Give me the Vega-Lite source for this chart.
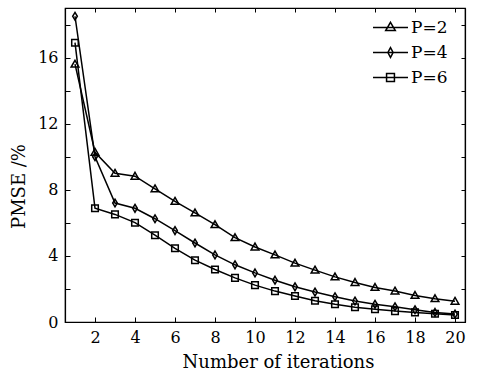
{
  "$schema": "https://vega.github.io/schema/vega-lite/v6.json",
  "width": 400,
  "height": 314,
  "autosize": "none",
  "padding": {"left": 65, "top": 8, "right": 16, "bottom": 56},
  "background": "white",
  "config": {
    "font": "DejaVu Serif",
    "view": {"stroke": "black", "strokeWidth": 1.2},
    "legend": {"labelFont": "DejaVu Serif", "labelFontSize": 17, "labelColor": "black"},
    "axis": {
      "domainColor": "black", "tickColor": "black", "labelColor": "black", "titleColor": "black",
      "labelFont": "DejaVu Serif", "titleFont": "DejaVu Serif", "labelFontSize": 16, "titleFontSize": 18,
      "titleFontWeight": "normal", "grid": false, "domainWidth": 1.2, "tickWidth": 1
    }
  },
  "data": {"values": [
    {"x": 1, "y": 15.6, "s": "P=2"}, {"x": 2, "y": 10.27, "s": "P=2"}, {"x": 3, "y": 9.0, "s": "P=2"}, {"x": 4, "y": 8.82, "s": "P=2"}, {"x": 5, "y": 8.06, "s": "P=2"},
    {"x": 6, "y": 7.3, "s": "P=2"}, {"x": 7, "y": 6.6, "s": "P=2"}, {"x": 8, "y": 5.89, "s": "P=2"}, {"x": 9, "y": 5.1, "s": "P=2"}, {"x": 10, "y": 4.54, "s": "P=2"},
    {"x": 11, "y": 4.06, "s": "P=2"}, {"x": 12, "y": 3.56, "s": "P=2"}, {"x": 13, "y": 3.14, "s": "P=2"}, {"x": 14, "y": 2.73, "s": "P=2"}, {"x": 15, "y": 2.39, "s": "P=2"},
    {"x": 16, "y": 2.09, "s": "P=2"}, {"x": 17, "y": 1.87, "s": "P=2"}, {"x": 18, "y": 1.61, "s": "P=2"}, {"x": 19, "y": 1.41, "s": "P=2"}, {"x": 20, "y": 1.25, "s": "P=2"},
    {"x": 1, "y": 18.5, "s": "P=4"}, {"x": 2, "y": 10.0, "s": "P=4"}, {"x": 3, "y": 7.2, "s": "P=4"}, {"x": 4, "y": 6.88, "s": "P=4"}, {"x": 5, "y": 6.25, "s": "P=4"},
    {"x": 6, "y": 5.53, "s": "P=4"}, {"x": 7, "y": 4.78, "s": "P=4"}, {"x": 8, "y": 4.06, "s": "P=4"}, {"x": 9, "y": 3.46, "s": "P=4"}, {"x": 10, "y": 2.97, "s": "P=4"},
    {"x": 11, "y": 2.53, "s": "P=4"}, {"x": 12, "y": 2.13, "s": "P=4"}, {"x": 13, "y": 1.81, "s": "P=4"}, {"x": 14, "y": 1.53, "s": "P=4"}, {"x": 15, "y": 1.27, "s": "P=4"},
    {"x": 16, "y": 1.07, "s": "P=4"}, {"x": 17, "y": 0.92, "s": "P=4"}, {"x": 18, "y": 0.74, "s": "P=4"}, {"x": 19, "y": 0.58, "s": "P=4"}, {"x": 20, "y": 0.48, "s": "P=4"},
    {"x": 1, "y": 16.9, "s": "P=6"}, {"x": 2, "y": 6.88, "s": "P=6"}, {"x": 3, "y": 6.51, "s": "P=6"}, {"x": 4, "y": 6.01, "s": "P=6"}, {"x": 5, "y": 5.25, "s": "P=6"},
    {"x": 6, "y": 4.46, "s": "P=6"}, {"x": 7, "y": 3.74, "s": "P=6"}, {"x": 8, "y": 3.18, "s": "P=6"}, {"x": 9, "y": 2.67, "s": "P=6"}, {"x": 10, "y": 2.23, "s": "P=6"},
    {"x": 11, "y": 1.87, "s": "P=6"}, {"x": 12, "y": 1.57, "s": "P=6"}, {"x": 13, "y": 1.29, "s": "P=6"}, {"x": 14, "y": 1.07, "s": "P=6"}, {"x": 15, "y": 0.89, "s": "P=6"},
    {"x": 16, "y": 0.77, "s": "P=6"}, {"x": 17, "y": 0.66, "s": "P=6"}, {"x": 18, "y": 0.58, "s": "P=6"}, {"x": 19, "y": 0.5, "s": "P=6"}, {"x": 20, "y": 0.42, "s": "P=6"}
  ]},
  "resolve": {"axis": {"x": "independent", "y": "independent"}},
  "layer": [
    {
      "mark": {"type": "line", "strokeWidth": 1.5},
      "encoding": {
        "x": {"field": "x", "type": "quantitative", "scale": {"domain": [0.5, 20.5], "nice": false, "zero": false},
              "axis": {"values": [2,4,6,8,10,12,14,16,18,20], "tickSize": -5, "labelPadding": 12, "title": "Number of iterations", "titlePadding": 8, "titleX": 213}},
        "y": {"field": "y", "type": "quantitative", "scale": {"domain": [0, 19], "nice": false},
              "axis": {"values": [0,2,4,6,8,10,12,14,16,18], "labelExpr": "datum.value % 4 === 0 ? datum.label : ''", "tickSize": -5, "labelPadding": 12, "title": "PMSE /%", "titlePadding": 9, "titleY": 178}},
        "color": {"field": "s", "type": "nominal", "scale": {"range": ["black", "black", "black"]},
          "legend": {
            "title": null, "orient": "none", "legendX": 316, "legendY": 10, "padding": 0,
            "labelFont": "DejaVu Serif", "labelFontSize": 17, "labelColor": "black", "labelOffset": 11,
            "symbolSize": 306, "rowPadding": 7, "symbolStrokeWidth": 1.5, "symbolFillColor": "white",
            "encode": {
              "symbols": {"update": {
                "shape": {"signal": "datum.value === 'P=2' ? 'M-2,0L2,0M0,-0.6L0.55,0.35L-0.55,0.35Z' : datum.value === 'P=4' ? 'M-2,0L2,0M0,-0.55L0.3,0L0,0.55L-0.3,0Z' : 'M-2,0L2,0M-0.45,-0.45L0.45,-0.45L0.45,0.45L-0.45,0.45Z'"},
                "fill": {"value": "white"},
                "fillOpacity": {"value": 0},
                "stroke": {"value": "black"}
              }},
              "labels": {"update": {"font": {"value": "DejaVu Serif"}}}
            }
          }}
      }
    },
    {
      "mark": {"type": "point", "filled": false, "strokeWidth": 1.5, "size": 60, "color": "black", "opacity": 1},
      "encoding": {
        "x": {"field": "x", "type": "quantitative", "axis": null},
        "y": {"field": "y", "type": "quantitative", "axis": null},
        "shape": {"field": "s", "type": "nominal", "legend": null,
          "scale": {"range": ["M0,-1L1,0.75L-1,0.75Z", "M0,-1L0.6,0L0,1L-0.6,0Z", "M-0.85,-0.85L0.85,-0.85L0.85,0.85L-0.85,0.85Z"]}}
      }
    },
    {
      "mark": {"type": "point", "opacity": 0},
      "encoding": {
        "x": {"field": "x", "type": "quantitative", "axis": {"orient": "top", "values": [2,4,6,8,10,12,14,16,18,20], "tickSize": -4, "labels": false, "title": null}},
        "y": {"field": "y", "type": "quantitative", "axis": {"orient": "right", "values": [0,2,4,6,8,10,12,14,16,18], "tickSize": -4, "labels": false, "title": null}}
      }
    }
  ]
}
